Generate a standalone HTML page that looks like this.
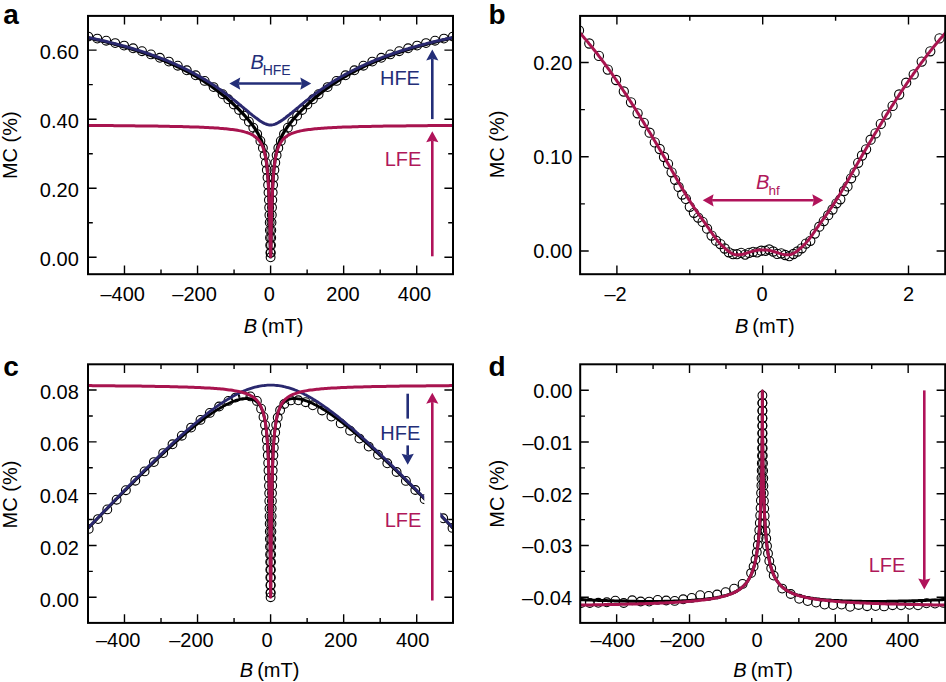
<!DOCTYPE html>
<html><head><meta charset="utf-8"><style>
html,body{margin:0;padding:0;background:#fff;overflow:hidden;}
svg{display:block;font-family:"Liberation Sans", sans-serif;font-size:20px;}
</style></head><body>
<svg width="946" height="682" viewBox="0 0 946 682">
<defs>
<clipPath id="cpa"><rect x="88" y="16" width="365" height="258"/></clipPath>
<clipPath id="cpb"><rect x="580" y="16" width="365" height="258"/></clipPath>
<clipPath id="cpc"><rect x="88" y="364.3" width="365" height="258.6"/></clipPath>
<clipPath id="cpd"><rect x="580" y="364.3" width="365" height="258.6"/></clipPath>
</defs>
<rect width="946" height="682" fill="#fff"/>
<g fill="none" stroke="#000" stroke-width="1.1" clip-path="url(#cpa)"><circle cx="88.3" cy="36.6" r="4.4"/><circle cx="97.3" cy="38.6" r="4.4"/><circle cx="106.2" cy="40.7" r="4.4"/><circle cx="115.2" cy="43.1" r="4.4"/><circle cx="124.1" cy="45.6" r="4.4"/><circle cx="133.1" cy="48.3" r="4.4"/><circle cx="142.0" cy="51.2" r="4.4"/><circle cx="151.0" cy="54.4" r="4.4"/><circle cx="159.9" cy="57.8" r="4.4"/><circle cx="168.9" cy="61.6" r="4.4"/><circle cx="177.8" cy="65.7" r="4.4"/><circle cx="186.8" cy="70.3" r="4.4"/><circle cx="195.7" cy="75.3" r="4.4"/><circle cx="204.7" cy="80.9" r="4.4"/><circle cx="213.6" cy="87.1" r="4.4"/><circle cx="222.6" cy="94.2" r="4.4"/><circle cx="228.3" cy="99.3" r="4.4"/><circle cx="233.8" cy="104.5" r="4.4"/><circle cx="239.1" cy="110.0" r="4.4"/><circle cx="244.1" cy="115.7" r="4.4"/><circle cx="248.9" cy="121.7" r="4.4"/><circle cx="253.3" cy="127.7" r="4.4"/><circle cx="257.2" cy="134.1" r="4.4"/><circle cx="260.4" cy="140.9" r="4.4"/><circle cx="262.9" cy="148.0" r="4.4"/><circle cx="264.6" cy="155.3" r="4.4"/><circle cx="265.9" cy="162.7" r="4.4"/><circle cx="266.8" cy="170.1" r="4.4"/><circle cx="267.5" cy="177.6" r="4.4"/><circle cx="268.1" cy="185.1" r="4.4"/><circle cx="268.5" cy="192.6" r="4.4"/><circle cx="268.9" cy="200.1" r="4.4"/><circle cx="269.2" cy="207.6" r="4.4"/><circle cx="269.4" cy="215.1" r="4.4"/><circle cx="269.7" cy="222.6" r="4.4"/><circle cx="269.9" cy="230.2" r="4.4"/><circle cx="270.0" cy="237.7" r="4.4"/><circle cx="270.2" cy="245.2" r="4.4"/><circle cx="270.4" cy="252.7" r="4.4"/><circle cx="270.6" cy="257.3" r="4.4"/><circle cx="270.8" cy="252.7" r="4.4"/><circle cx="271.0" cy="245.2" r="4.4"/><circle cx="271.2" cy="237.7" r="4.4"/><circle cx="271.3" cy="230.2" r="4.4"/><circle cx="271.5" cy="222.6" r="4.4"/><circle cx="271.8" cy="215.1" r="4.4"/><circle cx="272.0" cy="207.6" r="4.4"/><circle cx="272.3" cy="200.1" r="4.4"/><circle cx="272.7" cy="192.6" r="4.4"/><circle cx="273.1" cy="185.1" r="4.4"/><circle cx="273.7" cy="177.6" r="4.4"/><circle cx="274.4" cy="170.1" r="4.4"/><circle cx="275.3" cy="162.7" r="4.4"/><circle cx="276.6" cy="155.3" r="4.4"/><circle cx="278.3" cy="148.0" r="4.4"/><circle cx="280.8" cy="140.9" r="4.4"/><circle cx="284.0" cy="134.1" r="4.4"/><circle cx="287.9" cy="127.7" r="4.4"/><circle cx="292.3" cy="121.7" r="4.4"/><circle cx="297.1" cy="115.7" r="4.4"/><circle cx="302.1" cy="110.0" r="4.4"/><circle cx="307.4" cy="104.5" r="4.4"/><circle cx="312.9" cy="99.3" r="4.4"/><circle cx="318.6" cy="94.2" r="4.4"/><circle cx="327.6" cy="87.1" r="4.4"/><circle cx="336.5" cy="80.9" r="4.4"/><circle cx="345.5" cy="75.3" r="4.4"/><circle cx="354.4" cy="70.3" r="4.4"/><circle cx="363.4" cy="65.7" r="4.4"/><circle cx="372.3" cy="61.6" r="4.4"/><circle cx="381.3" cy="57.8" r="4.4"/><circle cx="390.2" cy="54.4" r="4.4"/><circle cx="399.2" cy="51.2" r="4.4"/><circle cx="408.1" cy="48.3" r="4.4"/><circle cx="417.1" cy="45.6" r="4.4"/><circle cx="426.0" cy="43.1" r="4.4"/><circle cx="435.0" cy="40.7" r="4.4"/><circle cx="443.9" cy="38.6" r="4.4"/><circle cx="452.9" cy="36.6" r="4.4"/></g>
<path d="M86.1,37.4L87.8,37.8L89.4,38.1L91.1,38.5L92.7,38.8L94.3,39.2L95.9,39.6L97.5,39.9L99.1,40.3L100.7,40.7L102.2,41.1L103.8,41.4L105.5,41.8L107.1,42.3L108.8,42.7L110.4,43.1L112.1,43.5L113.7,43.9L115.3,44.4L116.9,44.8L118.5,45.2L120.1,45.7L121.6,46.1L123.2,46.6L124.7,47.0L126.4,47.5L128.0,48.0L129.6,48.4L131.2,48.9L132.8,49.4L134.4,49.9L136.0,50.4L137.6,50.9L139.1,51.4L140.7,52.0L142.2,52.5L143.7,53.0L145.3,53.5L146.9,54.1L148.5,54.7L150.1,55.2L151.6,55.8L153.2,56.4L154.7,56.9L156.2,57.5L157.7,58.1L159.2,58.7L160.8,59.3L162.3,60.0L163.9,60.6L165.4,61.2L166.9,61.9L168.4,62.5L169.9,63.2L171.4,63.8L172.9,64.5L174.5,65.2L176.0,66.0L177.5,66.7L179.0,67.4L180.4,68.1L181.9,68.8L183.3,69.6L184.8,70.3L186.3,71.1L187.8,71.9L189.2,72.7L190.7,73.4L192.1,74.2L193.5,75.0L194.9,75.9L196.4,76.7L197.8,77.6L199.2,78.4L200.6,79.3L202.0,80.1L203.4,81.0L204.8,81.9L206.2,82.8L207.5,83.7L208.9,84.6L210.2,85.5L211.6,86.5L212.9,87.5L214.2,88.4L215.5,89.4L216.8,90.3L218.2,91.4L219.5,92.4L220.8,93.4L222.0,94.4L223.3,95.4L224.6,96.5L225.8,97.5L227.1,98.5L228.3,99.6L229.5,100.7L230.8,101.8L232.0,102.9L233.2,104.0L234.4,105.1L235.6,106.3L236.7,107.4L237.9,108.5L239.1,109.7L240.2,110.9L241.3,112.1L242.5,113.2L243.6,114.4L244.7,115.6L245.7,116.8L246.8,118.1L247.9,119.3L248.9,120.5L249.9,121.8L250.9,123.1L251.9,124.3L252.9,125.6L253.8,127.0L254.8,128.3L255.6,129.7L256.5,131.0L257.3,132.4L258.1,133.8L258.9,135.2L259.6,136.7L260.3,138.2L261.0,139.6L261.6,141.1L262.1,142.6L262.7,144.2L263.2,145.8L263.6,147.4L264.1,149.0L264.4,150.5L264.8,152.1L265.1,153.7L265.4,155.4L265.7,157.0L266.0,158.6L266.2,160.3L266.5,161.9L266.7,163.5L266.9,165.2L267.0,166.8L267.2,168.4L267.4,170.1L267.5,171.7L267.7,173.3L267.8,174.9L267.9,176.6L268.0,178.3L268.2,179.9L268.3,181.6L268.4,183.3L268.5,185.0L268.5,186.6L268.6,188.4L268.7,190.0L268.8,191.6L268.9,193.3L268.9,195.0L269.0,196.7L269.1,198.3L269.1,199.9L269.2,201.6L269.3,203.2L269.3,204.9L269.4,206.6L269.4,208.3L269.5,210.0L269.5,211.8L269.6,213.5L269.6,215.3L269.7,217.0L269.7,218.7L269.7,220.5L269.8,222.2L269.8,223.9L269.9,225.6L269.9,227.3L269.9,229.0L270.0,230.6L270.0,232.2L270.0,233.9L270.1,235.6L270.1,237.2L270.1,238.9L270.2,240.6L270.2,242.2L270.2,243.9L270.3,245.6L270.3,247.3L270.3,248.9L270.4,250.6L270.4,252.2L270.5,253.8L270.5,255.4L270.6,257.0L270.7,256.0L270.7,254.3L270.8,252.7L270.8,251.1L270.8,249.4L270.9,247.8L270.9,246.1L270.9,244.5L271.0,242.8L271.0,241.2L271.0,239.6L271.1,237.9L271.1,236.3L271.1,234.6L271.2,232.9L271.2,231.2L271.2,229.6L271.3,227.9L271.3,226.2L271.4,224.5L271.4,222.8L271.4,221.1L271.5,219.4L271.5,217.6L271.6,215.9L271.6,214.1L271.7,212.4L271.7,210.7L271.8,209.0L271.8,207.2L271.9,205.5L271.9,203.8L272.0,202.2L272.0,200.5L272.1,198.9L272.2,197.3L272.2,195.5L272.3,193.8L272.4,192.2L272.5,190.5L272.5,188.9L272.6,187.2L272.7,185.5L272.8,183.8L272.9,182.2L273.0,180.5L273.1,178.9L273.2,177.3L273.4,175.6L273.5,174.0L273.6,172.3L273.8,170.6L273.9,169.0L274.1,167.4L274.3,165.7L274.5,164.1L274.7,162.5L274.9,160.8L275.1,159.2L275.4,157.6L275.6,156.0L275.9,154.4L276.3,152.8L276.6,151.2L277.0,149.6L277.4,148.0L277.8,146.5L278.3,144.9L278.8,143.4L279.4,141.9L279.9,140.3L280.6,138.8L281.3,137.4L282.0,135.9L282.7,134.4L283.5,133.0L284.3,131.6L285.2,130.3L286.0,128.9L287.0,127.6L287.9,126.2L288.9,124.9L289.8,123.6L290.8,122.3L291.9,121.1L292.9,119.8L294.0,118.5L295.0,117.3L296.1,116.1L297.2,114.9L298.3,113.7L299.4,112.5L300.6,111.3L301.7,110.1L302.9,109.0L304.0,107.8L305.2,106.7L306.4,105.6L307.5,104.5L308.7,103.3L310.0,102.2L311.1,101.2L312.4,100.1L313.6,99.0L314.8,98.0L316.1,96.9L317.3,95.9L318.6,94.8L319.9,93.8L321.1,92.8L322.4,91.8L323.8,90.8L325.1,89.8L326.4,88.8L327.7,87.9L329.1,86.9L330.4,86.0L331.7,85.0L333.1,84.1L334.4,83.2L335.8,82.3L337.2,81.4L338.6,80.5L340.0,79.7L341.3,78.8L342.7,78.0L344.1,77.1L345.6,76.3L347.0,75.4L348.4,74.6L349.8,73.8L351.3,73.1L352.7,72.3L354.2,71.5L355.6,70.7L357.1,69.9L358.6,69.2L360.0,68.5L361.5,67.8L362.9,67.0L364.4,66.3L365.9,65.6L367.5,64.9L369.0,64.2L370.5,63.6L371.9,62.9L373.4,62.3L374.9,61.6L376.5,61.0L378.0,60.3L379.5,59.7L381.1,59.1L382.7,58.4L384.2,57.8L385.7,57.3L387.2,56.7L388.8,56.1L390.3,55.5L391.9,55.0L393.4,54.4L395.0,53.8L396.6,53.3L398.3,52.7L399.8,52.2L401.3,51.7L402.9,51.2L404.4,50.7L406.0,50.2L407.6,49.7L409.2,49.2L410.8,48.7L412.4,48.2L414.0,47.7L415.7,47.2L417.2,46.8L418.7,46.3L420.3,45.9L421.9,45.5L423.5,45.0L425.0,44.6L426.7,44.2L428.3,43.7L429.9,43.3L431.5,42.9L433.2,42.5L434.8,42.1L436.5,41.7L438.2,41.2L439.7,40.9L441.3,40.5L442.9,40.1L444.5,39.8L446.1,39.4L447.7,39.0L449.3,38.7L451.0,38.3L452.6,37.9L454.2,37.6L455.1,37.4" stroke="#000" stroke-width="3.2" fill="none" stroke-linejoin="round" clip-path="url(#cpa)"/>
<path d="M86.1,37.0L87.8,37.3L89.4,37.7L91.1,38.0L92.7,38.4L94.3,38.7L95.9,39.1L97.5,39.5L99.1,39.8L100.7,40.2L102.2,40.5L103.9,40.9L105.6,41.3L107.3,41.7L108.9,42.1L110.6,42.6L112.2,43.0L113.8,43.4L115.4,43.8L117.0,44.2L118.6,44.6L120.2,45.0L121.7,45.5L123.3,45.9L124.8,46.3L126.5,46.8L128.1,47.3L129.7,47.7L131.4,48.2L133.0,48.7L134.5,49.2L136.1,49.7L137.7,50.1L139.2,50.6L140.8,51.1L142.3,51.6L143.9,52.1L145.5,52.7L147.1,53.2L148.7,53.8L150.3,54.3L151.8,54.9L153.4,55.4L154.9,56.0L156.4,56.5L157.9,57.1L159.5,57.7L161.1,58.3L162.6,58.9L164.2,59.5L165.7,60.1L167.2,60.7L168.7,61.4L170.2,62.0L171.7,62.7L173.3,63.3L174.8,64.0L176.3,64.7L177.8,65.4L179.3,66.0L180.8,66.7L182.2,67.4L183.7,68.1L185.2,68.9L186.7,69.6L188.2,70.3L189.6,71.1L191.0,71.8L192.5,72.6L194.0,73.4L195.5,74.2L196.9,75.0L198.3,75.8L199.7,76.6L201.2,77.4L202.6,78.3L204.0,79.1L205.4,79.9L206.8,80.8L208.2,81.7L209.6,82.5L211.0,83.4L212.3,84.3L213.7,85.2L215.1,86.1L216.4,87.0L217.7,87.9L219.1,88.9L220.5,89.8L221.8,90.8L223.1,91.7L224.4,92.7L225.7,93.7L227.0,94.6L228.3,95.6L229.6,96.6L230.9,97.6L232.2,98.6L233.5,99.6L234.7,100.7L236.0,101.7L237.3,102.7L238.5,103.7L239.8,104.8L241.1,105.8L242.3,106.8L243.6,107.9L244.8,108.9L246.1,109.9L247.3,111.0L248.6,112.0L249.8,113.1L251.1,114.1L252.3,115.1L253.6,116.1L254.9,117.1L256.2,118.1L257.5,119.0L258.8,120.0L260.1,120.9L261.5,121.8L262.9,122.6L264.3,123.3L265.8,124.0L267.3,124.5L268.8,124.9L270.4,125.0L272.0,124.9L273.6,124.6L275.1,124.1L276.6,123.5L278.0,122.7L279.4,121.9L280.8,121.1L282.1,120.2L283.5,119.3L284.8,118.3L286.0,117.3L287.3,116.3L288.6,115.3L289.8,114.3L291.1,113.3L292.3,112.3L293.6,111.2L294.9,110.2L296.1,109.2L297.3,108.1L298.6,107.1L299.8,106.1L301.1,105.0L302.4,104.0L303.6,102.9L304.9,101.9L306.1,100.9L307.4,99.9L308.7,98.9L310.0,97.9L311.2,96.9L312.5,95.9L313.8,94.9L315.2,93.9L316.5,92.9L317.8,92.0L319.1,91.0L320.4,90.1L321.8,89.1L323.2,88.2L324.5,87.2L325.8,86.3L327.2,85.4L328.6,84.5L330.0,83.6L331.3,82.7L332.7,81.8L334.1,81.0L335.5,80.1L336.9,79.3L338.3,78.4L339.7,77.6L341.2,76.7L342.6,76.0L344.0,75.2L345.4,74.4L346.9,73.6L348.3,72.8L349.8,72.0L351.3,71.3L352.7,70.5L354.2,69.8L355.6,69.0L357.1,68.3L358.6,67.6L360.2,66.8L361.6,66.2L363.1,65.5L364.6,64.8L366.1,64.1L367.6,63.4L369.2,62.8L370.7,62.1L372.2,61.5L373.7,60.9L375.2,60.2L376.7,59.6L378.3,59.0L379.8,58.4L381.4,57.8L383.0,57.2L384.6,56.6L386.1,56.0L387.6,55.5L389.2,54.9L390.7,54.4L392.3,53.8L393.9,53.3L395.5,52.8L397.1,52.2L398.7,51.7L400.2,51.2L401.7,50.7L403.3,50.2L404.9,49.7L406.4,49.2L408.0,48.8L409.6,48.3L411.2,47.8L412.8,47.3L414.5,46.9L416.1,46.4L417.7,46.0L419.2,45.5L420.8,45.1L422.4,44.7L423.9,44.3L425.5,43.9L427.1,43.4L428.8,43.0L430.4,42.6L432.0,42.2L433.7,41.8L435.3,41.4L437.0,41.0L438.7,40.6L440.3,40.2L441.8,39.9L443.4,39.5L445.0,39.2L446.6,38.8L448.2,38.4L449.9,38.1L451.5,37.7L453.1,37.4L454.8,37.1L455.1,37.0" stroke="#2a286e" stroke-width="3" fill="none" stroke-linejoin="round" clip-path="url(#cpa)"/>
<path d="M86.1,125.5L87.8,125.5L89.4,125.5L91.1,125.5L92.7,125.5L94.3,125.5L95.9,125.5L97.6,125.5L99.4,125.5L101.1,125.6L102.8,125.6L104.4,125.6L106.1,125.6L107.8,125.6L109.4,125.6L111.1,125.6L112.7,125.6L114.3,125.7L115.9,125.7L117.6,125.7L119.3,125.7L121.0,125.7L122.7,125.7L124.4,125.7L126.0,125.8L127.7,125.8L129.3,125.8L130.9,125.8L132.5,125.8L134.2,125.8L135.9,125.9L137.6,125.9L139.2,125.9L140.9,125.9L142.5,125.9L144.1,126.0L145.7,126.0L147.4,126.0L149.1,126.0L150.8,126.0L152.4,126.1L154.1,126.1L155.7,126.1L157.3,126.1L159.0,126.2L160.7,126.2L162.3,126.2L164.0,126.3L165.6,126.3L167.2,126.3L168.9,126.3L170.6,126.4L172.2,126.4L173.8,126.4L175.4,126.5L177.1,126.5L178.8,126.6L180.4,126.6L182.0,126.6L183.6,126.7L185.3,126.7L187.0,126.8L188.6,126.8L190.2,126.9L191.8,126.9L193.5,127.0L195.1,127.0L196.8,127.1L198.4,127.1L200.0,127.2L201.7,127.3L203.3,127.3L204.9,127.4L206.6,127.5L208.2,127.6L209.8,127.7L211.4,127.7L213.0,127.8L214.7,127.9L216.3,128.0L217.9,128.1L219.5,128.3L221.2,128.4L222.8,128.5L224.4,128.7L226.0,128.8L227.7,129.0L229.3,129.2L230.9,129.4L232.5,129.6L234.1,129.8L235.8,130.0L237.4,130.3L239.0,130.6L240.6,130.9L242.2,131.2L243.7,131.6L245.3,132.1L246.8,132.5L248.4,133.1L249.9,133.7L251.4,134.4L252.8,135.1L254.2,136.0L255.5,136.9L256.7,137.9L257.9,139.1L258.9,140.3L259.9,141.6L260.8,142.9L261.6,144.3L262.3,145.8L262.9,147.3L263.4,148.8L263.9,150.4L264.4,151.9L264.8,153.5L265.1,155.1L265.5,156.6L265.8,158.2L266.0,159.8L266.3,161.5L266.5,163.1L266.7,164.7L266.9,166.3L267.1,167.9L267.3,169.6L267.4,171.2L267.6,172.9L267.7,174.6L267.9,176.2L268.0,177.8L268.1,179.5L268.2,181.2L268.3,182.8L268.4,184.4L268.5,186.1L268.6,187.8L268.7,189.5L268.8,191.1L268.8,192.7L268.9,194.4L269.0,196.1L269.1,197.8L269.1,199.5L269.2,201.1L269.2,202.7L269.3,204.4L269.3,206.1L269.4,207.8L269.5,209.5L269.5,211.2L269.6,212.9L269.6,214.7L269.6,216.4L269.7,218.1L269.7,219.9L269.8,221.6L269.8,223.3L269.9,225.0L269.9,226.7L269.9,228.4L270.0,230.0L270.0,231.6L270.0,233.4L270.1,235.1L270.1,236.7L270.1,238.4L270.2,240.1L270.2,241.8L270.2,243.4L270.3,245.0L270.3,246.6L270.3,248.3L270.4,250.0L270.4,251.6L270.4,253.3L270.5,254.9L270.5,256.5L270.7,256.5L270.7,254.9L270.8,253.3L270.8,251.6L270.8,250.0L270.9,248.3L270.9,246.6L270.9,245.0L271.0,243.4L271.0,241.8L271.0,240.1L271.1,238.4L271.1,236.7L271.1,235.1L271.2,233.4L271.2,231.6L271.2,230.0L271.3,228.4L271.3,226.7L271.3,225.0L271.4,223.3L271.4,221.6L271.5,219.9L271.5,218.1L271.6,216.4L271.6,214.7L271.6,212.9L271.7,211.2L271.7,209.5L271.8,207.8L271.9,206.1L271.9,204.4L272.0,202.7L272.0,201.1L272.1,199.5L272.1,197.8L272.2,196.1L272.3,194.4L272.4,192.7L272.4,191.1L272.5,189.5L272.6,187.8L272.7,186.1L272.8,184.4L272.9,182.8L273.0,181.2L273.1,179.5L273.2,177.8L273.3,176.2L273.5,174.6L273.6,172.9L273.7,171.3L273.9,169.7L274.1,168.0L274.3,166.4L274.5,164.8L274.7,163.2L274.9,161.5L275.2,159.9L275.4,158.3L275.7,156.7L276.1,155.1L276.4,153.5L276.8,152.0L277.3,150.4L277.8,148.9L278.3,147.3L278.9,145.9L279.6,144.4L280.4,143.0L281.3,141.6L282.2,140.3L283.3,139.1L284.4,138.0L285.7,136.9L287.0,136.0L288.4,135.1L289.8,134.4L291.3,133.7L292.8,133.1L294.3,132.6L295.9,132.1L297.4,131.6L299.0,131.3L300.6,130.9L302.2,130.6L303.8,130.3L305.4,130.0L307.0,129.8L308.6,129.6L310.2,129.4L311.9,129.2L313.5,129.0L315.1,128.8L316.7,128.7L318.3,128.5L320.0,128.4L321.6,128.3L323.2,128.2L324.9,128.0L326.5,127.9L328.1,127.8L329.7,127.7L331.3,127.7L333.0,127.6L334.6,127.5L336.3,127.4L337.9,127.3L339.5,127.3L341.2,127.2L342.8,127.1L344.4,127.1L346.1,127.0L347.7,127.0L349.4,126.9L351.0,126.9L352.6,126.8L354.2,126.8L355.9,126.7L357.6,126.7L359.2,126.6L360.8,126.6L362.4,126.6L364.1,126.5L365.8,126.5L367.4,126.4L369.0,126.4L370.6,126.4L372.3,126.3L374.0,126.3L375.6,126.3L377.2,126.3L378.9,126.2L380.5,126.2L382.2,126.2L383.9,126.1L385.5,126.1L387.1,126.1L388.8,126.1L390.4,126.0L392.1,126.0L393.8,126.0L395.5,126.0L397.1,126.0L398.7,125.9L400.3,125.9L402.0,125.9L403.6,125.9L405.3,125.9L407.0,125.8L408.7,125.8L410.3,125.8L411.9,125.8L413.5,125.8L415.2,125.8L416.8,125.7L418.5,125.7L420.2,125.7L421.9,125.7L423.6,125.7L425.3,125.7L426.9,125.7L428.5,125.6L430.1,125.6L431.8,125.6L433.4,125.6L435.1,125.6L436.8,125.6L438.4,125.6L440.1,125.6L441.8,125.5L443.6,125.5L445.3,125.5L446.9,125.5L448.5,125.5L450.1,125.5L451.8,125.5L453.4,125.5L455.1,125.5" stroke="#a8144f" stroke-width="3" fill="none" stroke-linejoin="round" clip-path="url(#cpa)"/>
<g fill="none" stroke="#000" stroke-width="1.1" clip-path="url(#cpb)"><circle cx="579.0" cy="30.5" r="4.6"/><circle cx="589.3" cy="43.5" r="4.6"/><circle cx="598.9" cy="55.9" r="4.6"/><circle cx="607.8" cy="69.6" r="4.6"/><circle cx="616.1" cy="80.0" r="4.6"/><circle cx="623.8" cy="91.5" r="4.6"/><circle cx="631.0" cy="102.3" r="4.6"/><circle cx="637.6" cy="113.3" r="4.6"/><circle cx="643.8" cy="122.8" r="4.6"/><circle cx="649.6" cy="132.7" r="4.6"/><circle cx="654.8" cy="142.4" r="4.6"/><circle cx="659.7" cy="149.0" r="4.6"/><circle cx="664.0" cy="157.0" r="4.6"/><circle cx="668.0" cy="163.8" r="4.6"/><circle cx="671.6" cy="172.3" r="4.6"/><circle cx="675.1" cy="179.8" r="4.6"/><circle cx="678.6" cy="186.9" r="4.6"/><circle cx="682.2" cy="194.5" r="4.6"/><circle cx="685.9" cy="198.9" r="4.6"/><circle cx="689.8" cy="206.8" r="4.6"/><circle cx="693.9" cy="212.8" r="4.6"/><circle cx="698.2" cy="217.6" r="4.6"/><circle cx="702.6" cy="221.9" r="4.6"/><circle cx="707.1" cy="228.7" r="4.6"/><circle cx="711.6" cy="235.6" r="4.6"/><circle cx="716.0" cy="240.7" r="4.6"/><circle cx="720.4" cy="244.1" r="4.6"/><circle cx="724.7" cy="248.5" r="4.6"/><circle cx="728.8" cy="252.3" r="4.6"/><circle cx="733.0" cy="254.1" r="4.6"/><circle cx="737.0" cy="254.2" r="4.6"/><circle cx="741.1" cy="252.9" r="4.6"/><circle cx="745.1" cy="254.6" r="4.6"/><circle cx="749.1" cy="252.8" r="4.6"/><circle cx="753.1" cy="251.8" r="4.6"/><circle cx="757.1" cy="252.4" r="4.6"/><circle cx="761.1" cy="250.7" r="4.6"/><circle cx="765.2" cy="250.8" r="4.6"/><circle cx="769.2" cy="249.5" r="4.6"/><circle cx="773.2" cy="251.5" r="4.6"/><circle cx="777.2" cy="253.9" r="4.6"/><circle cx="781.2" cy="253.3" r="4.6"/><circle cx="785.2" cy="255.0" r="4.6"/><circle cx="789.3" cy="256.2" r="4.6"/><circle cx="793.4" cy="254.0" r="4.6"/><circle cx="797.5" cy="251.5" r="4.6"/><circle cx="801.7" cy="248.3" r="4.6"/><circle cx="806.0" cy="243.6" r="4.6"/><circle cx="810.3" cy="240.8" r="4.6"/><circle cx="814.8" cy="233.6" r="4.6"/><circle cx="819.3" cy="226.7" r="4.6"/><circle cx="823.8" cy="221.1" r="4.6"/><circle cx="828.2" cy="215.2" r="4.6"/><circle cx="832.5" cy="209.5" r="4.6"/><circle cx="836.5" cy="203.3" r="4.6"/><circle cx="840.3" cy="199.3" r="4.6"/><circle cx="844.0" cy="191.0" r="4.6"/><circle cx="847.5" cy="186.4" r="4.6"/><circle cx="851.1" cy="178.3" r="4.6"/><circle cx="854.6" cy="172.4" r="4.6"/><circle cx="858.2" cy="162.8" r="4.6"/><circle cx="862.0" cy="155.5" r="4.6"/><circle cx="866.1" cy="149.3" r="4.6"/><circle cx="870.6" cy="139.7" r="4.6"/><circle cx="875.5" cy="133.4" r="4.6"/><circle cx="880.8" cy="123.9" r="4.6"/><circle cx="886.5" cy="114.6" r="4.6"/><circle cx="892.6" cy="105.9" r="4.6"/><circle cx="899.2" cy="94.5" r="4.6"/><circle cx="906.2" cy="82.7" r="4.6"/><circle cx="913.7" cy="74.4" r="4.6"/><circle cx="921.7" cy="61.6" r="4.6"/><circle cx="930.3" cy="51.3" r="4.6"/><circle cx="939.5" cy="38.4" r="4.6"/></g>
<path d="M573.2,25.7L574.3,26.9L575.4,28.1L576.6,29.3L577.7,30.6L578.8,31.8L580.0,33.1L581.1,34.3L582.3,35.6L583.4,36.9L584.5,38.3L585.7,39.6L586.8,40.9L588.0,42.3L589.1,43.7L590.2,45.0L591.4,46.4L592.5,47.8L593.6,49.3L594.8,50.7L595.9,52.2L597.1,53.6L598.2,55.1L599.3,56.6L600.5,58.1L601.6,59.6L602.7,61.1L603.9,62.6L605.0,64.2L606.0,65.5L606.9,66.8L607.9,68.1L608.8,69.4L609.8,70.7L610.7,72.1L611.7,73.4L612.6,74.8L613.6,76.1L614.5,77.5L615.4,78.9L616.4,80.2L617.3,81.6L618.3,83.0L619.2,84.4L620.2,85.8L621.1,87.2L622.1,88.6L623.0,90.1L624.0,91.5L624.9,92.9L625.9,94.4L626.8,95.8L627.8,97.3L628.7,98.7L629.7,100.2L630.6,101.7L631.6,103.2L632.5,104.7L633.5,106.1L634.4,107.6L635.4,109.1L636.3,110.6L637.3,112.2L638.2,113.7L639.2,115.2L640.1,116.7L641.0,118.3L642.0,119.8L642.9,121.3L643.9,122.9L644.8,124.4L645.8,126.0L646.7,127.6L647.7,129.1L648.6,130.7L649.6,132.3L650.5,133.8L651.5,135.4L652.4,137.0L653.4,138.6L654.3,140.2L655.3,141.8L656.2,143.4L657.2,145.0L658.1,146.6L659.1,148.2L660.0,149.9L661.0,151.5L661.9,153.1L662.9,154.8L663.8,156.4L664.8,158.0L665.7,159.7L666.6,161.3L667.6,163.0L668.5,164.6L669.5,166.3L670.4,168.0L671.4,169.6L672.3,171.3L673.3,173.0L674.2,174.6L675.2,176.3L676.1,178.0L677.1,179.6L678.0,181.3L679.0,183.0L679.9,184.6L680.9,186.3L681.8,187.9L682.8,189.5L683.7,191.1L684.7,192.7L685.6,194.3L686.6,195.9L687.5,197.4L688.5,198.9L689.4,200.4L690.4,201.9L691.3,203.4L692.3,204.8L693.2,206.2L694.1,207.6L695.1,209.0L696.0,210.4L697.0,211.8L697.9,213.1L698.9,214.5L699.8,215.8L700.8,217.1L701.7,218.5L702.7,219.8L703.6,221.2L704.6,222.5L705.5,223.8L706.5,225.2L707.4,226.6L708.4,227.9L709.3,229.3L710.3,230.7L711.2,232.1L712.2,233.5L713.1,234.8L714.1,236.1L715.0,237.4L716.1,238.9L717.3,240.4L718.4,241.7L719.6,243.0L720.7,244.2L721.8,245.4L723.2,246.7L724.5,247.9L725.8,249.1L727.1,250.2L728.5,251.2L729.8,252.2L731.3,253.1L732.8,253.8L734.3,254.4L736.1,254.7L737.8,254.8L739.5,254.8L741.2,254.5L742.9,254.2L744.6,253.7L746.3,253.2L748.0,252.6L749.7,252.1L751.4,251.6L753.1,251.1L754.8,250.7L756.5,250.4L758.2,250.1L760.0,250.0L761.7,249.9L763.4,249.9L765.1,249.9L766.8,250.1L768.5,250.3L770.2,250.6L771.9,251.0L773.6,251.5L775.3,252.0L777.0,252.5L778.7,253.1L780.4,253.6L782.1,254.1L783.8,254.5L785.6,254.7L787.3,254.8L789.0,254.8L790.7,254.5L792.4,253.9L793.9,253.2L795.4,252.3L796.7,251.4L798.1,250.3L799.4,249.2L800.7,248.1L802.0,246.9L803.4,245.6L804.5,244.4L805.7,243.2L806.8,241.9L807.9,240.6L809.1,239.2L810.2,237.7L811.3,236.1L812.3,234.8L813.2,233.5L814.2,232.1L815.1,230.7L816.1,229.3L817.0,227.9L818.0,226.6L818.9,225.2L819.9,223.8L820.8,222.5L821.8,221.2L822.7,219.8L823.7,218.5L824.6,217.1L825.6,215.8L826.5,214.5L827.5,213.1L828.4,211.8L829.4,210.4L830.3,209.0L831.3,207.6L832.2,206.2L833.1,204.8L834.1,203.4L835.0,201.9L836.0,200.4L836.9,198.9L837.9,197.4L838.8,195.9L839.8,194.3L840.7,192.7L841.7,191.1L842.6,189.5L843.6,187.9L844.5,186.3L845.5,184.6L846.4,183.0L847.4,181.3L848.3,179.6L849.3,178.0L850.2,176.3L851.2,174.6L852.1,173.0L853.1,171.3L854.0,169.6L855.0,168.0L855.9,166.3L856.9,164.6L857.8,163.0L858.8,161.3L859.7,159.7L860.6,158.0L861.6,156.4L862.5,154.8L863.5,153.1L864.4,151.5L865.4,149.9L866.3,148.2L867.3,146.6L868.2,145.0L869.2,143.4L870.1,141.8L871.1,140.2L872.0,138.6L873.0,137.0L873.9,135.4L874.9,133.8L875.8,132.3L876.8,130.7L877.7,129.1L878.7,127.6L879.6,126.0L880.6,124.4L881.5,122.9L882.5,121.3L883.4,119.8L884.4,118.3L885.3,116.7L886.2,115.2L887.2,113.7L888.1,112.2L889.1,110.6L890.0,109.1L891.0,107.6L891.9,106.1L892.9,104.7L893.8,103.2L894.8,101.7L895.7,100.2L896.7,98.7L897.6,97.3L898.6,95.8L899.5,94.4L900.5,92.9L901.4,91.5L902.4,90.1L903.3,88.6L904.3,87.2L905.2,85.8L906.2,84.4L907.1,83.0L908.1,81.6L909.0,80.2L910.0,78.9L910.9,77.5L911.8,76.1L912.8,74.8L913.7,73.4L914.7,72.1L915.6,70.7L916.6,69.4L917.5,68.1L918.5,66.8L919.4,65.5L920.4,64.2L921.5,62.6L922.7,61.1L923.8,59.6L924.9,58.1L926.1,56.6L927.2,55.1L928.3,53.6L929.5,52.2L930.6,50.7L931.8,49.3L932.9,47.8L934.0,46.4L935.2,45.0L936.3,43.7L937.4,42.3L938.6,40.9L939.7,39.6L940.9,38.3L942.0,36.9L943.1,35.6L944.3,34.3L945.4,33.1L946.6,31.8L947.7,30.6L948.8,29.3L950.0,28.1L951.1,26.9L952.2,25.7" stroke="#a8144f" stroke-width="3" fill="none" stroke-linejoin="round" clip-path="url(#cpb)"/>
<g fill="none" stroke="#000" stroke-width="1.1" clip-path="url(#cpc)"><circle cx="88.7" cy="528.9" r="4.4"/><circle cx="98.0" cy="519.1" r="4.4"/><circle cx="107.3" cy="509.4" r="4.4"/><circle cx="116.6" cy="499.7" r="4.4"/><circle cx="125.9" cy="490.2" r="4.4"/><circle cx="135.3" cy="480.7" r="4.4"/><circle cx="144.6" cy="471.4" r="4.4"/><circle cx="153.9" cy="462.1" r="4.4"/><circle cx="163.2" cy="453.1" r="4.4"/><circle cx="172.5" cy="444.3" r="4.4"/><circle cx="181.8" cy="435.7" r="4.4"/><circle cx="191.1" cy="427.6" r="4.4"/><circle cx="200.5" cy="419.9" r="4.4"/><circle cx="209.8" cy="412.9" r="4.4"/><circle cx="219.1" cy="406.5" r="4.4"/><circle cx="228.4" cy="400.9" r="4.4"/><circle cx="235.5" cy="397.6" r="4.4"/><circle cx="242.9" cy="395.5" r="4.4"/><circle cx="250.4" cy="396.4" r="4.4"/><circle cx="256.9" cy="400.9" r="4.4"/><circle cx="261.1" cy="408.7" r="4.4"/><circle cx="263.5" cy="416.9" r="4.4"/><circle cx="265.0" cy="424.9" r="4.4"/><circle cx="266.0" cy="432.5" r="4.4"/><circle cx="266.8" cy="440.1" r="4.4"/><circle cx="267.4" cy="447.7" r="4.4"/><circle cx="267.8" cy="455.3" r="4.4"/><circle cx="268.2" cy="462.9" r="4.4"/><circle cx="268.5" cy="470.5" r="4.4"/><circle cx="268.8" cy="478.1" r="4.4"/><circle cx="269.0" cy="485.7" r="4.4"/><circle cx="269.2" cy="493.3" r="4.4"/><circle cx="269.3" cy="500.9" r="4.4"/><circle cx="269.5" cy="508.6" r="4.4"/><circle cx="269.6" cy="516.2" r="4.4"/><circle cx="269.7" cy="523.8" r="4.4"/><circle cx="269.8" cy="531.5" r="4.4"/><circle cx="269.9" cy="539.1" r="4.4"/><circle cx="270.0" cy="546.8" r="4.4"/><circle cx="270.1" cy="554.4" r="4.4"/><circle cx="270.2" cy="562.1" r="4.4"/><circle cx="270.3" cy="569.8" r="4.4"/><circle cx="270.3" cy="577.5" r="4.4"/><circle cx="270.4" cy="585.2" r="4.4"/><circle cx="270.5" cy="592.8" r="4.4"/><circle cx="270.6" cy="597.2" r="4.4"/><circle cx="270.7" cy="592.8" r="4.4"/><circle cx="270.8" cy="585.2" r="4.4"/><circle cx="270.9" cy="577.5" r="4.4"/><circle cx="270.9" cy="569.8" r="4.4"/><circle cx="271.0" cy="562.1" r="4.4"/><circle cx="271.1" cy="554.4" r="4.4"/><circle cx="271.2" cy="546.8" r="4.4"/><circle cx="271.3" cy="539.1" r="4.4"/><circle cx="271.4" cy="531.5" r="4.4"/><circle cx="271.5" cy="523.8" r="4.4"/><circle cx="271.6" cy="516.2" r="4.4"/><circle cx="271.7" cy="508.6" r="4.4"/><circle cx="271.9" cy="500.9" r="4.4"/><circle cx="272.0" cy="493.3" r="4.4"/><circle cx="272.2" cy="485.7" r="4.4"/><circle cx="272.4" cy="478.1" r="4.4"/><circle cx="272.7" cy="470.5" r="4.4"/><circle cx="273.0" cy="462.9" r="4.4"/><circle cx="273.4" cy="455.3" r="4.4"/><circle cx="273.8" cy="447.7" r="4.4"/><circle cx="274.4" cy="440.1" r="4.4"/><circle cx="275.2" cy="432.5" r="4.4"/><circle cx="276.2" cy="425.0" r="4.4"/><circle cx="277.7" cy="417.5" r="4.4"/><circle cx="280.1" cy="410.3" r="4.4"/><circle cx="284.3" cy="404.0" r="4.4"/><circle cx="290.8" cy="400.4" r="4.4"/><circle cx="298.3" cy="400.3" r="4.4"/><circle cx="305.7" cy="402.2" r="4.4"/><circle cx="312.8" cy="405.3" r="4.4"/><circle cx="322.1" cy="410.5" r="4.4"/><circle cx="331.4" cy="416.6" r="4.4"/><circle cx="340.7" cy="423.4" r="4.4"/><circle cx="350.1" cy="430.7" r="4.4"/><circle cx="359.4" cy="438.6" r="4.4"/><circle cx="368.7" cy="446.6" r="4.4"/><circle cx="378.0" cy="454.8" r="4.4"/><circle cx="387.3" cy="463.3" r="4.4"/><circle cx="396.6" cy="472.0" r="4.4"/><circle cx="405.9" cy="480.9" r="4.4"/><circle cx="415.3" cy="490.0" r="4.4"/><circle cx="424.6" cy="499.2" r="4.4"/><circle cx="433.9" cy="508.7" r="4.4"/><circle cx="443.2" cy="518.3" r="4.4"/><circle cx="452.5" cy="527.9" r="4.4"/></g>
<path d="M86.1,530.4L87.4,529.1L88.6,527.8L89.8,526.6L91.1,525.3L92.3,524.0L93.5,522.8L94.7,521.5L95.9,520.3L97.1,519.0L98.3,517.8L99.5,516.6L100.7,515.4L101.8,514.1L103.0,512.9L104.2,511.7L105.3,510.5L106.5,509.4L107.6,508.2L108.8,507.0L109.9,505.9L111.1,504.7L112.2,503.5L113.3,502.4L114.5,501.1L115.8,499.9L117.0,498.6L118.2,497.4L119.4,496.2L120.7,495.0L121.9,493.7L123.1,492.5L124.2,491.3L125.4,490.2L126.6,489.0L127.8,487.8L128.9,486.7L130.1,485.5L131.2,484.4L132.4,483.2L133.5,482.1L134.8,480.9L136.0,479.6L137.2,478.4L138.5,477.2L139.7,476.0L140.9,474.8L142.1,473.7L143.3,472.5L144.5,471.3L145.6,470.2L146.8,469.1L148.0,467.9L149.1,466.8L150.4,465.6L151.6,464.4L152.9,463.2L154.1,462.1L155.3,460.9L156.5,459.8L157.7,458.6L158.9,457.5L160.1,456.4L161.3,455.3L162.5,454.1L163.8,453.0L165.0,451.8L166.3,450.7L167.5,449.5L168.7,448.4L169.9,447.3L171.1,446.2L172.4,445.1L173.6,443.9L174.9,442.8L176.1,441.7L177.4,440.6L178.6,439.5L179.8,438.5L181.1,437.4L182.4,436.3L183.6,435.2L184.9,434.1L186.1,433.0L187.4,432.0L188.7,430.9L189.9,429.9L191.2,428.8L192.5,427.8L193.8,426.7L195.1,425.7L196.4,424.6L197.6,423.6L199.0,422.6L200.3,421.6L201.6,420.6L202.9,419.6L204.2,418.6L205.5,417.7L206.8,416.7L208.2,415.8L209.5,414.8L210.9,413.9L212.3,412.9L213.6,412.1L215.0,411.2L216.3,410.3L217.7,409.4L219.1,408.6L220.5,407.7L222.0,406.9L223.4,406.1L224.8,405.4L226.3,404.6L227.7,403.9L229.2,403.2L230.7,402.5L232.1,401.9L233.6,401.3L235.2,400.7L236.7,400.2L238.2,399.8L239.8,399.4L241.4,399.0L243.0,398.7L244.6,398.6L246.2,398.5L247.8,398.5L249.4,398.7L251.0,399.0L252.6,399.4L254.0,400.1L255.4,400.9L256.7,401.8L257.9,403.0L258.9,404.2L259.9,405.5L260.7,406.9L261.4,408.4L262.1,409.9L262.6,411.4L263.1,413.0L263.6,414.5L264.0,416.1L264.4,417.7L264.7,419.3L265.0,420.9L265.3,422.5L265.5,424.2L265.8,425.8L266.0,427.4L266.2,429.0L266.4,430.7L266.6,432.3L266.7,433.9L266.9,435.6L267.0,437.2L267.2,438.9L267.3,440.5L267.4,442.2L267.5,443.8L267.6,445.4L267.7,447.1L267.8,448.8L267.9,450.4L268.0,452.1L268.1,453.9L268.2,455.5L268.2,457.2L268.3,458.9L268.4,460.6L268.5,462.3L268.5,463.9L268.6,465.6L268.6,467.3L268.7,469.1L268.8,470.9L268.8,472.5L268.9,474.2L268.9,475.9L269.0,477.6L269.0,479.3L269.1,481.1L269.1,482.9L269.1,484.5L269.2,486.1L269.2,487.8L269.2,489.5L269.3,491.1L269.3,492.9L269.4,494.6L269.4,496.3L269.4,498.1L269.5,499.9L269.5,501.7L269.5,503.5L269.6,505.4L269.6,507.2L269.6,508.9L269.6,510.5L269.7,512.1L269.7,513.7L269.7,515.4L269.7,517.1L269.8,518.7L269.8,520.4L269.8,522.1L269.8,523.8L269.8,525.4L269.9,527.1L269.9,528.8L269.9,530.5L269.9,532.2L269.9,533.9L270.0,535.6L270.0,537.3L270.0,539.0L270.0,540.7L270.0,542.4L270.1,544.0L270.1,545.7L270.1,547.3L270.1,549.0L270.1,550.6L270.1,552.2L270.2,554.1L270.2,555.9L270.2,557.7L270.2,559.5L270.2,561.3L270.2,563.0L270.2,564.7L270.3,566.4L270.3,568.0L270.3,569.8L270.3,571.6L270.3,573.3L270.3,574.9L270.4,576.7L270.4,578.4L270.4,580.0L270.4,581.7L270.4,583.4L270.4,585.1L270.4,586.7L270.5,588.3L270.5,589.9L270.5,591.6L270.5,593.3L270.5,594.9L270.6,596.5L270.6,596.4L270.7,594.8L270.7,593.1L270.7,591.5L270.7,589.8L270.7,588.2L270.8,586.6L270.8,584.9L270.8,583.3L270.8,581.5L270.8,579.8L270.8,578.2L270.8,576.5L270.9,574.7L270.9,573.0L270.9,571.3L270.9,569.6L270.9,567.8L270.9,566.1L271.0,564.5L271.0,562.8L271.0,561.0L271.0,559.3L271.0,557.5L271.0,555.7L271.1,553.8L271.1,552.0L271.1,550.3L271.1,548.7L271.1,547.1L271.1,545.4L271.2,543.7L271.2,542.1L271.2,540.4L271.2,538.7L271.2,537.0L271.2,535.3L271.3,533.6L271.3,531.9L271.3,530.2L271.3,528.5L271.3,526.8L271.4,525.2L271.4,523.5L271.4,521.8L271.4,520.1L271.5,518.4L271.5,516.8L271.5,515.1L271.5,513.5L271.5,511.8L271.6,510.2L271.6,508.6L271.6,507.0L271.7,505.1L271.7,503.3L271.7,501.5L271.7,499.6L271.8,497.9L271.8,496.1L271.9,494.3L271.9,492.6L271.9,490.9L272.0,489.2L272.0,487.5L272.0,485.9L272.1,484.3L272.1,482.7L272.2,480.9L272.2,479.1L272.2,477.4L272.3,475.6L272.3,474.0L272.4,472.3L272.4,470.7L272.5,468.9L272.6,467.1L272.6,465.4L272.7,463.7L272.8,462.1L272.8,460.5L272.9,458.7L273.0,457.0L273.0,455.3L273.1,453.7L273.2,452.0L273.3,450.3L273.4,448.6L273.5,447.0L273.6,445.3L273.7,443.7L273.8,441.9L273.9,440.3L274.1,438.7L274.2,437.0L274.3,435.4L274.5,433.7L274.7,432.1L274.8,430.5L275.0,428.8L275.2,427.2L275.4,425.6L275.7,424.0L275.9,422.4L276.2,420.8L276.5,419.2L276.9,417.6L277.2,416.0L277.6,414.4L278.1,412.9L278.6,411.3L279.2,409.8L279.8,408.3L280.5,406.8L281.4,405.4L282.3,404.1L283.4,402.9L284.5,401.8L285.8,400.8L287.2,400.0L288.7,399.4L290.3,398.9L291.9,398.6L293.5,398.5L295.1,398.5L296.7,398.6L298.3,398.8L299.9,399.0L301.5,399.4L303.1,399.8L304.6,400.3L306.2,400.8L307.7,401.4L309.2,402.0L310.7,402.6L312.2,403.3L313.6,403.9L315.1,404.7L316.6,405.4L318.0,406.2L319.4,407.0L320.9,407.8L322.3,408.7L323.6,409.5L325.0,410.4L326.4,411.3L327.8,412.2L329.1,413.1L330.5,414.0L331.8,414.9L333.1,415.8L334.5,416.8L335.8,417.8L337.1,418.7L338.5,419.7L339.7,420.7L341.0,421.7L342.4,422.7L343.7,423.8L345.0,424.8L346.3,425.8L347.6,426.8L348.8,427.9L350.1,428.9L351.3,429.9L352.6,431.0L353.9,432.1L355.1,433.1L356.4,434.2L357.6,435.2L358.9,436.3L360.2,437.4L361.5,438.6L362.7,439.6L363.9,440.7L365.1,441.8L366.4,442.9L367.6,444.0L368.9,445.2L370.2,446.3L371.4,447.4L372.6,448.5L373.8,449.6L375.0,450.8L376.3,451.9L377.5,453.0L378.8,454.2L380.0,455.4L381.2,456.5L382.4,457.6L383.6,458.7L384.8,459.9L386.0,461.0L387.2,462.2L388.4,463.3L389.7,464.5L390.9,465.7L392.2,466.9L393.3,468.0L394.5,469.2L395.7,470.3L396.9,471.4L398.0,472.6L399.2,473.8L400.4,474.9L401.6,476.1L402.9,477.3L404.1,478.5L405.3,479.7L406.5,481.0L407.8,482.2L408.9,483.3L410.1,484.5L411.2,485.6L412.4,486.8L413.5,487.9L414.7,489.1L415.9,490.3L417.1,491.5L418.3,492.7L419.5,493.9L420.7,495.1L421.9,496.3L423.1,497.5L424.3,498.8L425.5,500.0L426.8,501.3L428.0,502.5L429.1,503.7L430.3,504.8L431.4,506.0L432.5,507.1L433.7,508.3L434.8,509.5L436.0,510.7L437.2,511.9L438.3,513.1L439.5,514.3L440.7,515.5L441.8,516.7L443.0,517.9L444.2,519.2L445.4,520.4L446.6,521.6L447.8,522.9L449.1,524.2L450.3,525.4L451.5,526.7L452.7,528.0L454.0,529.3L455.1,530.4" stroke="#000" stroke-width="2.8" fill="none" stroke-linejoin="round" clip-path="url(#cpc)"/>
<path d="M86.1,529.9L87.2,528.8L88.5,527.5L89.7,526.2L90.9,524.9L92.1,523.6L93.4,522.4L94.6,521.1L95.8,519.9L97.0,518.6L98.2,517.4L99.4,516.1L100.5,514.9L101.7,513.7L102.9,512.5L104.0,511.3L105.2,510.1L106.4,508.9L107.5,507.7L108.7,506.5L109.8,505.3L110.9,504.2L112.1,503.0L113.2,501.8L114.3,500.7L115.5,499.4L116.8,498.2L118.0,496.9L119.2,495.7L120.4,494.4L121.6,493.2L122.8,492.0L124.0,490.8L125.2,489.6L126.4,488.4L127.5,487.2L128.7,486.0L129.9,484.9L131.0,483.7L132.2,482.5L133.3,481.4L134.4,480.3L135.7,479.0L136.9,477.8L138.1,476.6L139.3,475.4L140.5,474.2L141.8,473.0L142.9,471.8L144.1,470.6L145.3,469.4L146.5,468.3L147.6,467.1L148.8,466.0L150.0,464.9L151.2,463.7L152.4,462.5L153.7,461.3L154.9,460.1L156.1,458.9L157.3,457.7L158.5,456.6L159.7,455.5L160.9,454.3L162.0,453.2L163.2,452.1L164.5,450.9L165.7,449.8L166.9,448.6L168.1,447.5L169.4,446.3L170.6,445.2L171.7,444.1L172.9,443.0L174.2,441.8L175.4,440.7L176.7,439.6L177.9,438.4L179.1,437.3L180.3,436.2L181.5,435.2L182.8,434.0L184.1,432.9L185.3,431.8L186.5,430.7L187.8,429.7L189.0,428.6L190.3,427.5L191.5,426.4L192.8,425.3L194.0,424.3L195.2,423.3L196.5,422.2L197.8,421.1L199.1,420.1L200.3,419.1L201.6,418.0L202.9,417.0L204.2,416.0L205.5,415.0L206.8,413.9L208.1,412.9L209.4,411.9L210.7,410.9L212.0,410.0L213.4,409.0L214.7,408.0L216.0,407.1L217.3,406.1L218.6,405.2L220.0,404.3L221.3,403.4L222.7,402.5L224.1,401.6L225.5,400.7L226.8,399.9L228.3,399.0L229.6,398.2L231.1,397.3L232.5,396.5L233.9,395.8L235.3,395.0L236.8,394.2L238.2,393.5L239.7,392.8L241.2,392.1L242.7,391.5L244.2,390.8L245.7,390.2L247.2,389.6L248.7,389.1L250.2,388.6L251.8,388.1L253.3,387.6L254.9,387.2L256.4,386.8L258.0,386.5L259.6,386.2L261.1,385.9L262.7,385.6L264.3,385.5L265.9,385.3L267.5,385.2L269.1,385.1L270.7,385.1L272.3,385.2L273.9,385.2L275.5,385.3L277.1,385.5L278.7,385.7L280.3,385.9L281.9,386.2L283.5,386.5L285.1,386.9L286.6,387.3L288.2,387.7L289.8,388.2L291.3,388.7L292.8,389.2L294.3,389.7L295.8,390.3L297.3,390.9L298.8,391.6L300.3,392.2L301.8,392.9L303.2,393.6L304.7,394.4L306.1,395.1L307.6,395.9L309.0,396.7L310.4,397.5L311.9,398.3L313.2,399.2L314.6,400.0L316.0,400.9L317.4,401.8L318.7,402.6L320.1,403.6L321.4,404.5L322.8,405.4L324.1,406.3L325.5,407.3L326.8,408.2L328.1,409.2L329.4,410.2L330.7,411.1L332.1,412.1L333.3,413.1L334.6,414.1L335.9,415.1L337.3,416.2L338.5,417.2L339.8,418.2L341.1,419.3L342.4,420.3L343.6,421.3L344.9,422.4L346.2,423.5L347.4,424.5L348.7,425.5L349.9,426.6L351.2,427.7L352.5,428.8L353.7,429.9L354.9,430.9L356.1,432.0L357.4,433.1L358.6,434.3L359.9,435.4L361.1,436.5L362.3,437.6L363.6,438.7L364.8,439.8L366.0,440.9L367.3,442.1L368.5,443.3L369.7,444.4L370.9,445.5L372.1,446.6L373.3,447.7L374.6,448.9L375.8,450.0L377.0,451.2L378.3,452.4L379.5,453.5L380.6,454.6L381.8,455.7L383.0,456.9L384.2,458.0L385.4,459.2L386.6,460.4L387.8,461.6L389.1,462.8L390.3,464.0L391.6,465.2L392.7,466.3L393.9,467.5L395.0,468.6L396.2,469.8L397.4,470.9L398.6,472.1L399.8,473.3L401.0,474.5L402.2,475.7L403.4,476.9L404.6,478.1L405.9,479.4L407.1,480.6L408.2,481.7L409.4,482.9L410.5,484.0L411.7,485.2L412.8,486.4L414.0,487.6L415.2,488.7L416.4,489.9L417.6,491.1L418.7,492.4L419.9,493.6L421.1,494.8L422.4,496.0L423.6,497.3L424.8,498.5L426.0,499.8L427.3,501.1L428.4,502.2L429.5,503.4L430.6,504.5L431.8,505.7L432.9,506.9L434.1,508.1L435.2,509.3L436.4,510.5L437.5,511.7L438.7,512.9L439.9,514.1L441.1,515.3L442.2,516.5L443.4,517.8L444.6,519.0L445.8,520.3L447.0,521.5L448.2,522.8L449.5,524.1L450.7,525.3L451.9,526.6L453.1,527.9L454.4,529.2L455.1,529.9" stroke="#2a286e" stroke-width="2.8" fill="none" stroke-linejoin="round" clip-path="url(#cpc)"/>
<path d="M86.1,385.6L87.8,385.6L89.4,385.6L91.1,385.6L92.7,385.7L94.3,385.7L95.9,385.7L97.6,385.7L99.4,385.7L101.1,385.7L102.8,385.7L104.4,385.7L106.1,385.8L107.8,385.8L109.4,385.8L111.1,385.8L112.7,385.8L114.3,385.8L115.9,385.9L117.6,385.9L119.3,385.9L121.0,385.9L122.7,385.9L124.4,385.9L126.0,386.0L127.7,386.0L129.3,386.0L130.9,386.0L132.5,386.0L134.2,386.1L135.9,386.1L137.6,386.1L139.2,386.1L140.9,386.1L142.5,386.2L144.1,386.2L145.7,386.2L147.4,386.2L149.1,386.3L150.8,386.3L152.4,386.3L154.1,386.3L155.7,386.4L157.3,386.4L159.0,386.4L160.7,386.5L162.3,386.5L164.0,386.5L165.6,386.6L167.2,386.6L168.9,386.6L170.6,386.7L172.2,386.7L173.8,386.7L175.4,386.8L177.1,386.8L178.8,386.9L180.4,386.9L182.0,387.0L183.6,387.0L185.3,387.1L187.0,387.1L188.6,387.2L190.2,387.2L191.8,387.3L193.5,387.3L195.1,387.4L196.8,387.5L198.4,387.5L200.0,387.6L201.7,387.7L203.3,387.8L204.9,387.9L206.6,387.9L208.2,388.0L209.8,388.1L211.4,388.2L213.0,388.3L214.7,388.5L216.3,388.6L217.9,388.7L219.5,388.8L221.2,389.0L222.7,389.1L224.4,389.3L226.0,389.5L227.6,389.7L229.2,389.9L230.8,390.1L232.4,390.3L234.0,390.6L235.7,390.9L237.2,391.2L238.8,391.5L240.4,391.9L242.0,392.3L243.5,392.7L245.1,393.2L246.6,393.7L248.1,394.4L249.6,395.0L251.0,395.8L252.4,396.6L253.7,397.5L255.0,398.5L256.2,399.6L257.3,400.8L258.3,402.1L259.2,403.4L260.0,404.8L260.8,406.2L261.4,407.7L262.0,409.2L262.6,410.7L263.1,412.2L263.5,413.8L263.9,415.4L264.3,417.0L264.6,418.6L264.9,420.1L265.2,421.8L265.5,423.4L265.7,425.0L265.9,426.6L266.1,428.3L266.3,429.9L266.5,431.6L266.7,433.1L266.8,434.8L267.0,436.4L267.1,438.1L267.2,439.7L267.3,441.3L267.5,443.0L267.6,444.7L267.7,446.4L267.8,448.1L267.9,449.7L268.0,451.4L268.1,453.2L268.1,454.8L268.2,456.4L268.3,458.1L268.4,459.9L268.4,461.5L268.5,463.1L268.6,464.8L268.6,466.5L268.7,468.3L268.7,470.0L268.8,471.7L268.8,473.3L268.9,475.0L268.9,476.7L269.0,478.4L269.0,480.2L269.1,482.0L269.1,483.8L269.2,485.4L269.2,487.1L269.2,488.7L269.3,490.4L269.3,492.1L269.3,493.8L269.4,495.6L269.4,497.3L269.4,499.1L269.5,500.9L269.5,502.7L269.5,504.6L269.6,506.4L269.6,508.0L269.6,509.7L269.6,511.3L269.7,512.9L269.7,514.6L269.7,516.2L269.7,517.9L269.8,519.5L269.8,521.2L269.8,522.9L269.8,524.6L269.9,526.3L269.9,528.0L269.9,529.7L269.9,531.4L269.9,533.1L270.0,534.8L270.0,536.5L270.0,538.1L270.0,539.8L270.0,541.5L270.0,543.2L270.1,544.9L270.1,546.5L270.1,548.2L270.1,549.8L270.1,551.4L270.1,553.0L270.2,554.9L270.2,556.7L270.2,558.5L270.2,560.3L270.2,562.0L270.2,563.7L270.3,565.4L270.3,567.1L270.3,568.7L270.3,570.5L270.3,572.2L270.3,573.9L270.3,575.5L270.4,577.2L270.4,578.9L270.4,580.7L270.4,582.3L270.4,584.0L270.4,585.8L270.5,587.5L270.5,589.1L270.5,590.7L270.5,592.3L270.5,594.0L270.5,595.6L270.6,597.2L270.7,595.7L270.7,594.1L270.7,592.4L270.7,590.8L270.7,589.2L270.7,587.6L270.8,585.9L270.8,584.2L270.8,582.5L270.8,580.8L270.8,579.1L270.8,577.4L270.9,575.7L270.9,574.1L270.9,572.4L270.9,570.7L270.9,568.9L270.9,567.3L270.9,565.7L271.0,564.0L271.0,562.3L271.0,560.5L271.0,558.8L271.0,557.0L271.0,555.1L271.1,553.3L271.1,551.7L271.1,550.1L271.1,548.4L271.1,546.8L271.1,545.1L271.2,543.5L271.2,541.8L271.2,540.1L271.2,538.4L271.2,536.7L271.2,535.0L271.3,533.3L271.3,531.7L271.3,530.0L271.3,528.3L271.3,526.6L271.4,524.9L271.4,523.2L271.4,521.5L271.4,519.8L271.5,518.2L271.5,516.5L271.5,514.8L271.5,513.2L271.6,511.6L271.6,509.9L271.6,508.3L271.6,506.7L271.7,504.8L271.7,503.0L271.7,501.2L271.8,499.4L271.8,497.6L271.8,495.8L271.9,494.1L271.9,492.3L271.9,490.6L272.0,489.0L272.0,487.3L272.0,485.7L272.1,484.0L272.1,482.2L272.2,480.4L272.2,478.6L272.3,476.9L272.3,475.2L272.4,473.5L272.4,471.9L272.5,470.2L272.5,468.5L272.6,466.7L272.6,465.0L272.7,463.3L272.8,461.7L272.8,460.1L272.9,458.3L273.0,456.6L273.1,454.9L273.1,453.3L273.2,451.6L273.3,449.9L273.4,448.2L273.5,446.6L273.6,445.0L273.7,443.3L273.8,441.6L274.0,439.9L274.1,438.3L274.2,436.6L274.4,435.0L274.5,433.4L274.7,431.8L274.9,430.1L275.1,428.5L275.3,426.9L275.5,425.2L275.7,423.6L276.0,422.0L276.2,420.4L276.5,418.8L276.9,417.2L277.2,415.6L277.6,414.0L278.1,412.4L278.6,410.8L279.1,409.3L279.7,407.8L280.4,406.3L281.1,404.9L281.9,403.5L282.9,402.2L283.9,400.9L284.9,399.7L286.1,398.6L287.4,397.6L288.7,396.7L290.1,395.8L291.5,395.1L293.0,394.4L294.5,393.8L296.0,393.3L297.5,392.8L299.1,392.3L300.7,391.9L302.3,391.5L303.9,391.2L305.5,390.9L307.1,390.6L308.7,390.3L310.3,390.1L312.0,389.9L313.6,389.7L315.2,389.5L316.8,389.3L318.4,389.2L320.0,389.0L321.7,388.8L323.3,388.7L324.9,388.6L326.5,388.5L328.2,388.3L329.8,388.2L331.4,388.1L333.0,388.0L334.6,387.9L336.3,387.9L337.9,387.8L339.5,387.7L341.2,387.6L342.8,387.5L344.4,387.5L346.1,387.4L347.7,387.3L349.4,387.3L351.0,387.2L352.6,387.2L354.2,387.1L355.9,387.1L357.6,387.0L359.2,387.0L360.8,386.9L362.4,386.9L364.1,386.8L365.8,386.8L367.4,386.7L369.0,386.7L370.6,386.7L372.3,386.6L374.0,386.6L375.6,386.6L377.2,386.5L378.9,386.5L380.5,386.5L382.2,386.4L383.9,386.4L385.5,386.4L387.1,386.3L388.8,386.3L390.4,386.3L392.1,386.3L393.8,386.2L395.5,386.2L397.1,386.2L398.7,386.2L400.3,386.1L402.0,386.1L403.6,386.1L405.3,386.1L407.0,386.1L408.7,386.0L410.3,386.0L411.9,386.0L413.5,386.0L415.2,386.0L416.8,385.9L418.5,385.9L420.2,385.9L421.9,385.9L423.6,385.9L425.3,385.9L426.9,385.8L428.5,385.8L430.1,385.8L431.8,385.8L433.4,385.8L435.1,385.8L436.8,385.7L438.4,385.7L440.1,385.7L441.8,385.7L443.6,385.7L445.3,385.7L446.9,385.7L448.5,385.7L450.1,385.6L451.8,385.6L453.4,385.6L455.1,385.6" stroke="#a8144f" stroke-width="3" fill="none" stroke-linejoin="round" clip-path="url(#cpc)"/>
<g fill="none" stroke="#000" stroke-width="1.1" clip-path="url(#cpd)"><circle cx="581.3" cy="603.0" r="4.4"/><circle cx="589.8" cy="603.0" r="4.4"/><circle cx="598.3" cy="602.8" r="4.4"/><circle cx="606.8" cy="602.3" r="4.4"/><circle cx="615.3" cy="600.7" r="4.4"/><circle cx="623.7" cy="603.0" r="4.4"/><circle cx="632.2" cy="600.3" r="4.4"/><circle cx="640.7" cy="601.5" r="4.4"/><circle cx="649.2" cy="601.6" r="4.4"/><circle cx="657.7" cy="599.9" r="4.4"/><circle cx="666.2" cy="600.5" r="4.4"/><circle cx="674.7" cy="600.9" r="4.4"/><circle cx="683.2" cy="599.3" r="4.4"/><circle cx="691.7" cy="597.9" r="4.4"/><circle cx="700.2" cy="595.2" r="4.4"/><circle cx="708.7" cy="595.9" r="4.4"/><circle cx="717.1" cy="594.5" r="4.4"/><circle cx="725.6" cy="592.2" r="4.4"/><circle cx="734.1" cy="588.7" r="4.4"/><circle cx="742.6" cy="583.9" r="4.4"/><circle cx="751.1" cy="573.1" r="4.4"/><circle cx="753.6" cy="566.5" r="4.4"/><circle cx="755.5" cy="559.5" r="4.4"/><circle cx="756.8" cy="552.3" r="4.4"/><circle cx="757.8" cy="545.0" r="4.4"/><circle cx="758.6" cy="537.7" r="4.4"/><circle cx="759.3" cy="530.3" r="4.4"/><circle cx="759.8" cy="522.9" r="4.4"/><circle cx="760.2" cy="515.4" r="4.4"/><circle cx="760.6" cy="508.0" r="4.4"/><circle cx="760.9" cy="500.5" r="4.4"/><circle cx="761.1" cy="493.1" r="4.4"/><circle cx="761.4" cy="485.6" r="4.4"/><circle cx="761.5" cy="478.1" r="4.4"/><circle cx="761.7" cy="470.6" r="4.4"/><circle cx="761.8" cy="463.2" r="4.4"/><circle cx="762.0" cy="455.7" r="4.4"/><circle cx="762.1" cy="448.2" r="4.4"/><circle cx="762.2" cy="440.7" r="4.4"/><circle cx="762.2" cy="433.2" r="4.4"/><circle cx="762.3" cy="425.7" r="4.4"/><circle cx="762.3" cy="418.2" r="4.4"/><circle cx="762.4" cy="410.7" r="4.4"/><circle cx="762.4" cy="403.1" r="4.4"/><circle cx="762.4" cy="395.5" r="4.4"/><circle cx="762.4" cy="403.1" r="4.4"/><circle cx="762.4" cy="410.7" r="4.4"/><circle cx="762.5" cy="418.2" r="4.4"/><circle cx="762.5" cy="425.7" r="4.4"/><circle cx="762.6" cy="433.2" r="4.4"/><circle cx="762.6" cy="440.7" r="4.4"/><circle cx="762.7" cy="448.2" r="4.4"/><circle cx="762.8" cy="455.8" r="4.4"/><circle cx="763.0" cy="463.3" r="4.4"/><circle cx="763.1" cy="470.8" r="4.4"/><circle cx="763.3" cy="478.3" r="4.4"/><circle cx="763.4" cy="485.8" r="4.4"/><circle cx="763.7" cy="493.3" r="4.4"/><circle cx="763.9" cy="500.9" r="4.4"/><circle cx="764.2" cy="508.4" r="4.4"/><circle cx="764.6" cy="515.9" r="4.4"/><circle cx="765.0" cy="523.4" r="4.4"/><circle cx="765.5" cy="530.9" r="4.4"/><circle cx="766.2" cy="538.5" r="4.4"/><circle cx="767.0" cy="546.0" r="4.4"/><circle cx="768.0" cy="553.5" r="4.4"/><circle cx="769.3" cy="560.9" r="4.4"/><circle cx="771.2" cy="568.3" r="4.4"/><circle cx="773.7" cy="575.6" r="4.4"/><circle cx="782.2" cy="588.6" r="4.4"/><circle cx="790.7" cy="594.0" r="4.4"/><circle cx="799.2" cy="598.8" r="4.4"/><circle cx="807.7" cy="601.1" r="4.4"/><circle cx="816.1" cy="602.6" r="4.4"/><circle cx="824.6" cy="604.6" r="4.4"/><circle cx="833.1" cy="605.1" r="4.4"/><circle cx="841.6" cy="604.6" r="4.4"/><circle cx="850.1" cy="606.8" r="4.4"/><circle cx="858.6" cy="605.0" r="4.4"/><circle cx="867.1" cy="606.2" r="4.4"/><circle cx="875.6" cy="606.1" r="4.4"/><circle cx="884.1" cy="606.4" r="4.4"/><circle cx="892.6" cy="605.2" r="4.4"/><circle cx="901.1" cy="605.3" r="4.4"/><circle cx="909.5" cy="604.8" r="4.4"/><circle cx="918.0" cy="605.3" r="4.4"/><circle cx="926.5" cy="603.3" r="4.4"/><circle cx="935.0" cy="603.6" r="4.4"/><circle cx="943.5" cy="602.9" r="4.4"/></g>
<path d="M578.4,599.5L580.0,599.6L581.7,599.7L583.3,599.7L584.9,599.8L586.5,599.9L588.1,600.0L589.9,600.0L591.6,600.1L593.3,600.2L595.0,600.2L596.6,600.3L598.3,600.4L600.0,600.4L601.6,600.5L603.3,600.5L604.9,600.6L606.5,600.6L608.1,600.7L609.8,600.7L611.5,600.8L613.2,600.8L614.9,600.9L616.5,600.9L618.2,601.0L619.8,601.0L621.4,601.1L623.0,601.1L624.8,601.1L626.5,601.2L628.1,601.2L629.8,601.2L631.5,601.3L633.1,601.3L634.7,601.3L636.4,601.3L638.0,601.3L639.6,601.4L641.3,601.4L643.0,601.4L644.6,601.4L646.3,601.4L647.9,601.4L649.5,601.4L651.2,601.4L652.8,601.4L654.5,601.4L656.1,601.4L657.7,601.4L659.4,601.4L661.0,601.4L662.7,601.4L664.3,601.3L666.0,601.3L667.6,601.3L669.2,601.3L670.9,601.2L672.5,601.2L674.1,601.1L675.8,601.1L677.5,601.0L679.1,601.0L680.7,600.9L682.4,600.8L684.1,600.8L685.7,600.7L687.3,600.6L689.0,600.5L690.6,600.4L692.2,600.3L693.9,600.2L695.5,600.1L697.1,600.0L698.7,599.8L700.4,599.7L702.0,599.5L703.6,599.4L705.2,599.2L706.9,599.0L708.5,598.8L710.1,598.6L711.7,598.4L713.3,598.1L714.9,597.9L716.5,597.6L718.1,597.3L719.7,597.0L721.3,596.6L722.9,596.2L724.5,595.8L726.0,595.4L727.6,594.9L729.1,594.4L730.6,593.9L732.2,593.3L733.7,592.6L735.1,591.9L736.6,591.1L738.0,590.3L739.3,589.4L740.7,588.5L741.9,587.5L743.1,586.4L744.3,585.3L745.4,584.1L746.4,582.8L747.4,581.5L748.2,580.2L749.1,578.8L749.9,577.4L750.6,575.9L751.3,574.4L751.9,572.9L752.5,571.4L753.0,569.8L753.5,568.3L753.9,566.8L754.4,565.2L754.8,563.6L755.1,562.0L755.5,560.4L755.8,558.8L756.1,557.2L756.4,555.6L756.7,553.9L756.9,552.3L757.2,550.7L757.4,549.0L757.6,547.4L757.8,545.8L758.0,544.1L758.2,542.5L758.4,540.9L758.5,539.2L758.7,537.5L758.8,535.9L759.0,534.2L759.1,532.6L759.2,530.9L759.4,529.2L759.5,527.5L759.6,525.9L759.7,524.3L759.8,522.6L759.9,520.9L760.0,519.2L760.1,517.5L760.2,515.9L760.3,514.3L760.4,512.6L760.5,510.9L760.5,509.1L760.6,507.4L760.7,505.8L760.7,504.2L760.8,502.5L760.9,500.9L760.9,499.2L761.0,497.5L761.1,495.8L761.1,494.1L761.2,492.3L761.2,490.6L761.3,488.8L761.3,487.2L761.4,485.6L761.4,484.0L761.4,482.3L761.5,480.7L761.5,479.1L761.6,477.4L761.6,475.8L761.6,474.1L761.7,472.4L761.7,470.8L761.7,469.1L761.8,467.4L761.8,465.7L761.8,464.0L761.9,462.4L761.9,460.7L761.9,459.0L761.9,457.3L762.0,455.7L762.0,454.0L762.0,452.3L762.0,450.6L762.1,449.0L762.1,447.3L762.1,445.7L762.1,444.0L762.1,442.4L762.2,440.8L762.2,439.2L762.2,437.6L762.2,435.8L762.2,434.1L762.2,432.4L762.2,430.7L762.3,429.0L762.3,427.3L762.3,425.6L762.3,424.0L762.3,422.4L762.3,420.7L762.3,419.0L762.3,417.3L762.3,415.6L762.3,414.0L762.4,412.3L762.4,410.6L762.4,409.0L762.4,407.3L762.4,405.6L762.4,404.0L762.4,402.4L762.4,400.7L762.4,399.1L762.4,397.5L762.4,395.8L762.4,394.2L762.4,392.5L762.4,390.9L762.4,391.2L762.4,392.8L762.4,394.5L762.4,396.1L762.4,397.8L762.4,399.4L762.4,401.0L762.4,402.7L762.4,404.4L762.4,406.0L762.4,407.6L762.4,409.4L762.4,411.0L762.4,412.7L762.5,414.4L762.5,416.0L762.5,417.7L762.5,419.4L762.5,421.1L762.5,422.8L762.5,424.5L762.5,426.1L762.5,427.7L762.5,429.4L762.6,431.1L762.6,432.8L762.6,434.6L762.6,436.3L762.6,438.1L762.6,439.7L762.7,441.3L762.7,442.9L762.7,444.5L762.7,446.2L762.7,447.8L762.8,449.5L762.8,451.1L762.8,452.8L762.8,454.5L762.8,456.2L762.9,457.8L762.9,459.5L762.9,461.2L762.9,462.9L763.0,464.5L763.0,466.2L763.0,467.9L763.1,469.6L763.1,471.3L763.1,472.9L763.2,474.6L763.2,476.3L763.2,477.9L763.3,479.6L763.3,481.2L763.4,482.8L763.4,484.5L763.5,486.1L763.5,487.7L763.5,489.3L763.6,491.1L763.7,492.8L763.7,494.5L763.8,496.2L763.8,497.9L763.9,499.6L763.9,501.3L764.0,503.0L764.1,504.6L764.1,506.2L764.2,507.8L764.3,509.6L764.4,511.3L764.4,513.0L764.5,514.7L764.6,516.3L764.7,518.0L764.8,519.6L764.9,521.3L765.0,523.0L765.1,524.6L765.2,526.3L765.3,527.9L765.5,529.6L765.6,531.3L765.7,532.9L765.8,534.5L766.0,536.2L766.1,537.9L766.3,539.5L766.5,541.2L766.6,542.8L766.8,544.4L767.0,546.1L767.2,547.7L767.5,549.4L767.7,551.0L767.9,552.7L768.2,554.3L768.5,556.0L768.8,557.6L769.1,559.2L769.4,560.8L769.8,562.4L770.1,564.0L770.5,565.6L771.0,567.2L771.5,568.7L772.0,570.3L772.5,571.9L773.1,573.4L773.7,574.9L774.4,576.3L775.2,577.8L775.9,579.2L776.8,580.6L777.7,581.9L778.7,583.2L779.8,584.5L780.9,585.6L782.1,586.8L783.3,587.8L784.6,588.8L785.9,589.7L787.3,590.6L788.7,591.4L790.2,592.2L791.7,592.8L793.1,593.5L794.7,594.1L796.2,594.6L797.8,595.1L799.3,595.5L800.9,596.0L802.4,596.4L804.0,596.7L805.6,597.1L807.2,597.4L808.8,597.7L810.4,598.0L812.0,598.2L813.6,598.5L815.2,598.7L816.9,598.9L818.5,599.1L820.1,599.3L821.7,599.4L823.4,599.6L825.0,599.7L826.6,599.9L828.3,600.0L829.9,600.1L831.5,600.3L833.2,600.4L834.8,600.5L836.4,600.6L838.1,600.6L839.7,600.7L841.4,600.8L843.0,600.9L844.6,600.9L846.2,601.0L847.9,601.0L849.6,601.1L851.2,601.1L852.8,601.2L854.4,601.2L856.1,601.3L857.8,601.3L859.4,601.3L861.0,601.3L862.7,601.4L864.3,601.4L866.0,601.4L867.6,601.4L869.2,601.4L870.9,601.4L872.5,601.4L874.2,601.4L875.9,601.4L877.5,601.4L879.1,601.4L880.8,601.4L882.4,601.4L884.1,601.4L885.8,601.4L887.5,601.3L889.1,601.3L890.7,601.3L892.3,601.3L894.0,601.2L895.7,601.2L897.3,601.2L899.0,601.1L900.7,601.1L902.3,601.1L904.0,601.0L905.6,601.0L907.2,601.0L908.9,600.9L910.5,600.9L912.2,600.8L913.9,600.8L915.6,600.7L917.3,600.7L918.9,600.6L920.5,600.6L922.2,600.5L923.8,600.4L925.5,600.4L927.1,600.3L928.8,600.3L930.5,600.2L932.2,600.1L933.9,600.1L935.6,600.0L937.3,599.9L938.9,599.9L940.6,599.8L942.2,599.7L943.8,599.6L945.5,599.6L946.4,599.5" stroke="#000" stroke-width="3.0" fill="none" stroke-linejoin="round" clip-path="url(#cpd)"/>
<path d="M578.4,605.1L580.0,605.0L581.7,605.0L583.3,605.0L584.9,605.0L586.5,604.9L588.1,604.9L589.9,604.9L591.6,604.9L593.3,604.8L595.0,604.8L596.6,604.8L598.3,604.8L600.0,604.7L601.6,604.7L603.3,604.7L604.9,604.6L606.5,604.6L608.1,604.6L609.8,604.6L611.5,604.5L613.2,604.5L614.9,604.4L616.5,604.4L618.2,604.4L619.8,604.3L621.4,604.3L623.0,604.3L624.8,604.2L626.5,604.2L628.1,604.1L629.8,604.1L631.5,604.1L633.1,604.0L634.7,604.0L636.4,603.9L638.0,603.9L639.6,603.8L641.3,603.8L643.0,603.7L644.6,603.7L646.3,603.6L647.9,603.6L649.5,603.5L651.2,603.4L652.8,603.4L654.5,603.3L656.1,603.3L657.7,603.2L659.4,603.1L661.0,603.1L662.7,603.0L664.3,602.9L666.0,602.8L667.6,602.8L669.2,602.7L670.9,602.6L672.5,602.5L674.1,602.4L675.8,602.3L677.5,602.2L679.1,602.1L680.7,602.0L682.4,601.9L684.1,601.8L685.7,601.7L687.3,601.5L689.0,601.4L690.6,601.3L692.2,601.1L693.9,601.0L695.5,600.8L697.1,600.7L698.7,600.5L700.4,600.3L701.9,600.1L703.6,599.9L705.2,599.7L706.8,599.5L708.4,599.3L710.0,599.1L711.6,598.8L713.2,598.5L714.8,598.2L716.4,597.9L718.0,597.6L719.6,597.3L721.2,596.9L722.8,596.5L724.3,596.1L725.9,595.6L727.4,595.2L728.9,594.7L730.5,594.1L732.0,593.5L733.5,592.8L734.9,592.1L736.4,591.4L737.8,590.5L739.1,589.7L740.5,588.7L741.7,587.7L743.0,586.6L744.1,585.5L745.2,584.3L746.2,583.1L747.2,581.8L748.1,580.5L748.9,579.1L749.7,577.7L750.4,576.2L751.1,574.8L751.8,573.2L752.3,571.7L752.9,570.1L753.4,568.6L753.9,567.0L754.3,565.4L754.7,563.8L755.1,562.2L755.4,560.6L755.8,559.0L756.1,557.4L756.4,555.8L756.6,554.2L756.9,552.5L757.1,550.9L757.4,549.3L757.6,547.6L757.8,546.0L758.0,544.3L758.2,542.7L758.3,541.1L758.5,539.4L758.7,537.8L758.8,536.1L759.0,534.4L759.1,532.8L759.2,531.1L759.4,529.5L759.5,527.8L759.6,526.1L759.7,524.5L759.8,522.8L759.9,521.1L760.0,519.4L760.1,517.8L760.2,516.2L760.3,514.5L760.4,512.9L760.4,511.2L760.5,509.4L760.6,507.7L760.7,506.1L760.7,504.5L760.8,502.8L760.9,501.2L760.9,499.5L761.0,497.8L761.0,496.1L761.1,494.4L761.2,492.6L761.2,490.9L761.3,489.1L761.3,487.5L761.3,485.9L761.4,484.3L761.4,482.7L761.5,481.0L761.5,479.4L761.6,477.7L761.6,476.1L761.6,474.4L761.7,472.8L761.7,471.1L761.7,469.4L761.8,467.7L761.8,466.1L761.8,464.4L761.9,462.7L761.9,461.0L761.9,459.3L761.9,457.7L762.0,456.0L762.0,454.3L762.0,452.6L762.0,451.0L762.1,449.3L762.1,447.7L762.1,446.0L762.1,444.4L762.1,442.7L762.1,441.1L762.2,439.5L762.2,437.9L762.2,436.1L762.2,434.4L762.2,432.7L762.2,431.0L762.3,429.3L762.3,427.6L762.3,425.9L762.3,424.3L762.3,422.7L762.3,421.0L762.3,419.2L762.3,417.6L762.3,415.9L762.3,414.3L762.4,412.6L762.4,410.9L762.4,409.2L762.4,407.5L762.4,405.9L762.4,404.2L762.4,402.6L762.4,400.9L762.4,399.3L762.4,397.7L762.4,396.0L762.4,394.4L762.4,392.8L762.4,391.2L762.4,390.9L762.4,392.6L762.4,394.2L762.4,395.9L762.4,397.6L762.4,399.2L762.4,400.8L762.4,402.5L762.4,404.1L762.4,405.7L762.4,407.4L762.4,409.1L762.4,410.8L762.4,412.4L762.5,414.1L762.5,415.8L762.5,417.4L762.5,419.1L762.5,420.8L762.5,422.5L762.5,424.2L762.5,425.8L762.5,427.4L762.5,429.1L762.6,430.8L762.6,432.5L762.6,434.2L762.6,436.0L762.6,437.7L762.6,439.3L762.7,441.0L762.7,442.6L762.7,444.2L762.7,445.9L762.7,447.5L762.7,449.2L762.8,450.8L762.8,452.5L762.8,454.1L762.8,455.8L762.9,457.5L762.9,459.2L762.9,460.9L762.9,462.5L763.0,464.2L763.0,465.9L763.0,467.6L763.1,469.2L763.1,470.9L763.1,472.6L763.2,474.3L763.2,475.9L763.2,477.6L763.3,479.2L763.3,480.9L763.4,482.5L763.4,484.1L763.4,485.8L763.5,487.4L763.5,489.0L763.6,490.7L763.6,492.5L763.7,494.2L763.8,495.9L763.8,497.6L763.9,499.3L763.9,501.0L764.0,502.7L764.1,504.3L764.1,505.9L764.2,507.6L764.3,509.3L764.4,511.0L764.4,512.7L764.5,514.4L764.6,516.0L764.7,517.7L764.8,519.3L764.9,521.0L765.0,522.7L765.1,524.4L765.2,526.0L765.3,527.6L765.4,529.4L765.6,531.0L765.7,532.7L765.8,534.3L766.0,536.0L766.1,537.6L766.3,539.3L766.5,541.0L766.6,542.6L766.8,544.2L767.0,545.9L767.2,547.5L767.4,549.1L767.6,550.8L767.9,552.4L768.1,554.0L768.4,555.6L768.7,557.2L769.0,558.8L769.3,560.4L769.7,562.0L770.0,563.6L770.4,565.2L770.9,566.8L771.3,568.3L771.8,569.9L772.3,571.4L772.9,572.9L773.5,574.4L774.2,575.9L774.9,577.4L775.7,578.8L776.5,580.2L777.4,581.5L778.4,582.8L779.4,584.1L780.5,585.3L781.6,586.4L782.8,587.5L784.1,588.6L785.4,589.5L786.8,590.4L788.2,591.2L789.6,592.0L791.1,592.7L792.5,593.4L794.0,594.0L795.5,594.5L797.1,595.1L798.6,595.6L800.2,596.0L801.8,596.4L803.4,596.8L804.9,597.2L806.5,597.6L808.1,597.9L809.7,598.2L811.3,598.5L812.9,598.8L814.5,599.0L816.2,599.3L817.7,599.5L819.4,599.7L821.0,599.9L822.6,600.1L824.2,600.3L825.9,600.5L827.5,600.6L829.1,600.8L830.7,601.0L832.4,601.1L834.0,601.3L835.6,601.4L837.3,601.5L838.9,601.6L840.5,601.8L842.1,601.9L843.8,602.0L845.4,602.1L847.1,602.2L848.7,602.3L850.4,602.4L852.0,602.5L853.6,602.6L855.3,602.7L857.0,602.7L858.6,602.8L860.2,602.9L861.8,603.0L863.5,603.0L865.2,603.1L866.8,603.2L868.4,603.3L870.0,603.3L871.7,603.4L873.3,603.4L875.0,603.5L876.6,603.6L878.2,603.6L879.9,603.7L881.5,603.7L883.2,603.8L884.8,603.8L886.5,603.9L888.2,603.9L889.8,604.0L891.5,604.0L893.1,604.1L894.8,604.1L896.4,604.1L898.1,604.2L899.8,604.2L901.5,604.3L903.1,604.3L904.8,604.3L906.4,604.4L908.0,604.4L909.7,604.4L911.4,604.5L913.1,604.5L914.8,604.5L916.5,604.6L918.2,604.6L919.8,604.6L921.4,604.7L923.1,604.7L924.7,604.7L926.4,604.8L928.0,604.8L929.7,604.8L931.4,604.8L933.1,604.9L934.8,604.9L936.5,604.9L938.1,604.9L939.7,605.0L941.4,605.0L943.0,605.0L944.6,605.0L946.3,605.1L946.4,605.1" stroke="#a8144f" stroke-width="3" fill="none" stroke-linejoin="round" clip-path="url(#cpd)"/>
<path d="M124.48,274.2v-8.6M124.48,15.9v8.6M197.54,274.2v-8.6M197.54,15.9v8.6M270.6,274.2v-8.6M270.6,15.9v8.6M343.66,274.2v-8.6M343.66,15.9v8.6M416.72,274.2v-8.6M416.72,15.9v8.6M161.01,274.2v-4.8M161.01,15.9v4.8M234.07,274.2v-4.8M234.07,15.9v4.8M307.13,274.2v-4.8M307.13,15.9v4.8M380.19,274.2v-4.8M380.19,15.9v4.8M88,257.3h8.6M453,257.3h-8.6M88,188.24h8.6M453,188.24h-8.6M88,119.18h8.6M453,119.18h-8.6M88,50.12h8.6M453,50.12h-8.6M88,222.77h4.8M453,222.77h-4.8M88,153.71h4.8M453,153.71h-4.8M88,84.65h4.8M453,84.65h-4.8" stroke="#000" stroke-width="1.4" fill="none"/>
<rect x="88" y="15.9" width="365" height="258.3" fill="none" stroke="#000" stroke-width="2"/>
<path d="M616.9,274.2v-8.6M616.9,15.9v8.6M762.7,274.2v-8.6M762.7,15.9v8.6M908.5,274.2v-8.6M908.5,15.9v8.6M689.8,274.2v-4.8M689.8,15.9v4.8M835.6,274.2v-4.8M835.6,15.9v4.8M580.1,251h8.6M945.2,251h-8.6M580.1,156.75h8.6M945.2,156.75h-8.6M580.1,62.5h8.6M945.2,62.5h-8.6M580.1,203.88h4.8M945.2,203.88h-4.8M580.1,109.62h4.8M945.2,109.62h-4.8" stroke="#000" stroke-width="1.4" fill="none"/>
<rect x="580.1" y="15.9" width="365.1" height="258.3" fill="none" stroke="#000" stroke-width="2"/>
<path d="M124.48,622.9v-8.6M124.48,364.3v8.6M197.54,622.9v-8.6M197.54,364.3v8.6M270.6,622.9v-8.6M270.6,364.3v8.6M343.66,622.9v-8.6M343.66,364.3v8.6M416.72,622.9v-8.6M416.72,364.3v8.6M161.01,622.9v-4.8M161.01,364.3v4.8M234.07,622.9v-4.8M234.07,364.3v4.8M307.13,622.9v-4.8M307.13,364.3v4.8M380.19,622.9v-4.8M380.19,364.3v4.8M88,597.25h8.6M453,597.25h-8.6M88,545.45h8.6M453,545.45h-8.6M88,493.65h8.6M453,493.65h-8.6M88,441.85h8.6M453,441.85h-8.6M88,390.05h8.6M453,390.05h-8.6M88,571.35h4.8M453,571.35h-4.8M88,519.55h4.8M453,519.55h-4.8M88,467.75h4.8M453,467.75h-4.8M88,415.95h4.8M453,415.95h-4.8" stroke="#000" stroke-width="1.4" fill="none"/>
<rect x="88" y="364.3" width="365" height="258.6" fill="none" stroke="#000" stroke-width="2"/>
<path d="M616.64,622.9v-8.6M616.64,364.3v8.6M689.52,622.9v-8.6M689.52,364.3v8.6M762.4,622.9v-8.6M762.4,364.3v8.6M835.28,622.9v-8.6M835.28,364.3v8.6M908.16,622.9v-8.6M908.16,364.3v8.6M653.08,622.9v-4.8M653.08,364.3v4.8M725.96,622.9v-4.8M725.96,364.3v4.8M798.84,622.9v-4.8M798.84,364.3v4.8M871.72,622.9v-4.8M871.72,364.3v4.8M580.2,390.25h8.6M945.2,390.25h-8.6M580.2,442h8.6M945.2,442h-8.6M580.2,493.75h8.6M945.2,493.75h-8.6M580.2,545.5h8.6M945.2,545.5h-8.6M580.2,597.25h8.6M945.2,597.25h-8.6M580.2,416.12h4.8M945.2,416.12h-4.8M580.2,467.88h4.8M945.2,467.88h-4.8M580.2,519.62h4.8M945.2,519.62h-4.8M580.2,571.38h4.8M945.2,571.38h-4.8" stroke="#000" stroke-width="1.4" fill="none"/>
<rect x="580.2" y="364.3" width="365" height="258.6" fill="none" stroke="#000" stroke-width="2"/>
<text x="78.78" y="266.3" text-anchor="end" >0.00</text>
<text x="78.78" y="197.24" text-anchor="end" >0.20</text>
<text x="78.78" y="128.18" text-anchor="end" >0.40</text>
<text x="78.78" y="59.12" text-anchor="end" >0.60</text>
<text x="100.4" y="300.6" >–400</text>
<text x="172.35" y="300.6" >–200</text>
<text x="263.82" y="300.6" >0</text>
<text x="326.29" y="300.6" >200</text>
<text x="397.84" y="300.6" >400</text>
<text x="572.28" y="258" text-anchor="end" >0.00</text>
<text x="572.28" y="163.75" text-anchor="end" >0.10</text>
<text x="572.28" y="69.5" text-anchor="end" >0.20</text>
<text x="604.5" y="300.6" >–2</text>
<text x="756.52" y="300.6" >0</text>
<text x="903.09" y="300.6" >2</text>
<text x="78.78" y="606.55" text-anchor="end" >0.00</text>
<text x="79.01" y="554.75" text-anchor="end" >0.02</text>
<text x="78.59" y="502.95" text-anchor="end" >0.04</text>
<text x="78.88" y="451.15" text-anchor="end" >0.06</text>
<text x="78.87" y="399.35" text-anchor="end" >0.08</text>
<text x="96" y="647.4" >–400</text>
<text x="169.2" y="647.4" >–200</text>
<text x="261.62" y="647.4" >0</text>
<text x="324.09" y="647.4" >200</text>
<text x="395.94" y="647.4" >400</text>
<text x="572.28" y="398.05" text-anchor="end" >0.00</text>
<text x="572.48" y="449.8" text-anchor="end" >–0.01</text>
<text x="572.51" y="501.55" text-anchor="end" >–0.02</text>
<text x="572.38" y="553.3" text-anchor="end" >–0.03</text>
<text x="572.09" y="605.05" text-anchor="end" >–0.04</text>
<text x="590.6" y="647.4" >–400</text>
<text x="660.4" y="647.4" >–200</text>
<text x="751.52" y="647.4" >0</text>
<text x="814.39" y="647.4" >200</text>
<text x="885.74" y="647.4" >400</text>
<text transform="translate(17.2,179.04) rotate(-90)">MC (%)</text>
<text transform="translate(503.6,178.34) rotate(-90)">MC (%)</text>
<text transform="translate(17,528.44) rotate(-90)">MC (%)</text>
<text transform="translate(503.5,527.64) rotate(-90)">MC (%)</text>
<text x="243.78" y="333"><tspan font-style="italic">B</tspan><tspan dx="-1.4"> (mT)</tspan></text>
<text x="734.88" y="333"><tspan font-style="italic">B</tspan><tspan dx="-1.4"> (mT)</tspan></text>
<text x="239.68" y="677"><tspan font-style="italic">B</tspan><tspan dx="-1.4"> (mT)</tspan></text>
<text x="733.18" y="677"><tspan font-style="italic">B</tspan><tspan dx="-1.4"> (mT)</tspan></text>
<text x="3.18" y="24.3" font-size="28" font-weight="bold" >a</text>
<text x="488.45" y="24.4" font-size="28" font-weight="bold" >b</text>
<text x="3.21" y="376.3" font-size="28" font-weight="bold" >c</text>
<text x="488.55" y="375.9" font-size="28" font-weight="bold" >d</text>
<text x="250.48" y="68.6" fill="#232e78" font-style="italic" >B</text>
<text x="262.65" y="74.6" font-size="14" fill="#232e78" >HFE</text>
<path d="M238.75,83.55H301.8" stroke="#232e78" stroke-width="2.5" fill="none"/>
<path d="M229.35,83.55L240.25,77.4L238.75,83.55L240.25,89.7Z" fill="#232e78"/>
<path d="M311.2,83.55L300.3,77.4L301.8,83.55L300.3,89.7Z" fill="#232e78"/>
<text x="379.96" y="84.6" fill="#232e78" >HFE</text>
<path d="M432.3,119.1L432.3,58.8" stroke="#232e78" stroke-width="2.6" fill="none"/>
<path d="M432.3,49.4L438.4,60.4L432.3,58.8L426.2,60.4Z" fill="#232e78"/>
<path d="M432.3,256.3L432.3,140.7" stroke="#b0135a" stroke-width="2.6" fill="none"/>
<path d="M432.3,131.3L438.4,142.3L432.3,140.7L426.2,142.3Z" fill="#b0135a"/>
<text x="384.66" y="166.2" fill="#b0185a" >LFE</text>
<text x="756.08" y="188.6" fill="#b0185a" font-style="italic" >B</text>
<text x="768.46" y="194.6" font-size="13.5" fill="#b0185a" >hf</text>
<path d="M712.1,200.3H813.8" stroke="#b0135a" stroke-width="2.5" fill="none"/>
<path d="M702.7,200.3L713.6,194.15L712.1,200.3L713.6,206.45Z" fill="#b0135a"/>
<path d="M823.2,200.3L812.3,194.15L813.8,200.3L812.3,206.45Z" fill="#b0135a"/>
<path d="M432.3,600.5V392" stroke="#fff" stroke-width="16"/>
<path d="M432.3,600.5L432.3,402.1" stroke="#b0135a" stroke-width="2.6" fill="none"/>
<path d="M432.3,392.7L438.4,403.7L432.3,402.1L426.2,403.7Z" fill="#b0135a"/>
<text x="380.36" y="440.1" fill="#232e78" >HFE</text>
<path d="M407.7,393.7V418.6" stroke="#232e78" stroke-width="2.6"/>
<path d="M407.7,445.4L407.7,455.3" stroke="#232e78" stroke-width="2.6" fill="none"/>
<path d="M407.7,464.7L401.6,453.7L407.7,455.3L413.8,453.7Z" fill="#232e78"/>
<text x="384.66" y="527.3" fill="#b0185a" >LFE</text>
<path d="M924.3,390.4L924.3,580" stroke="#b0135a" stroke-width="2.6" fill="none"/>
<path d="M924.3,589.4L918.2,578.4L924.3,580L930.4,578.4Z" fill="#b0135a"/>
<text x="868.76" y="571.6" fill="#b0185a" >LFE</text>
</svg>
</body></html>
